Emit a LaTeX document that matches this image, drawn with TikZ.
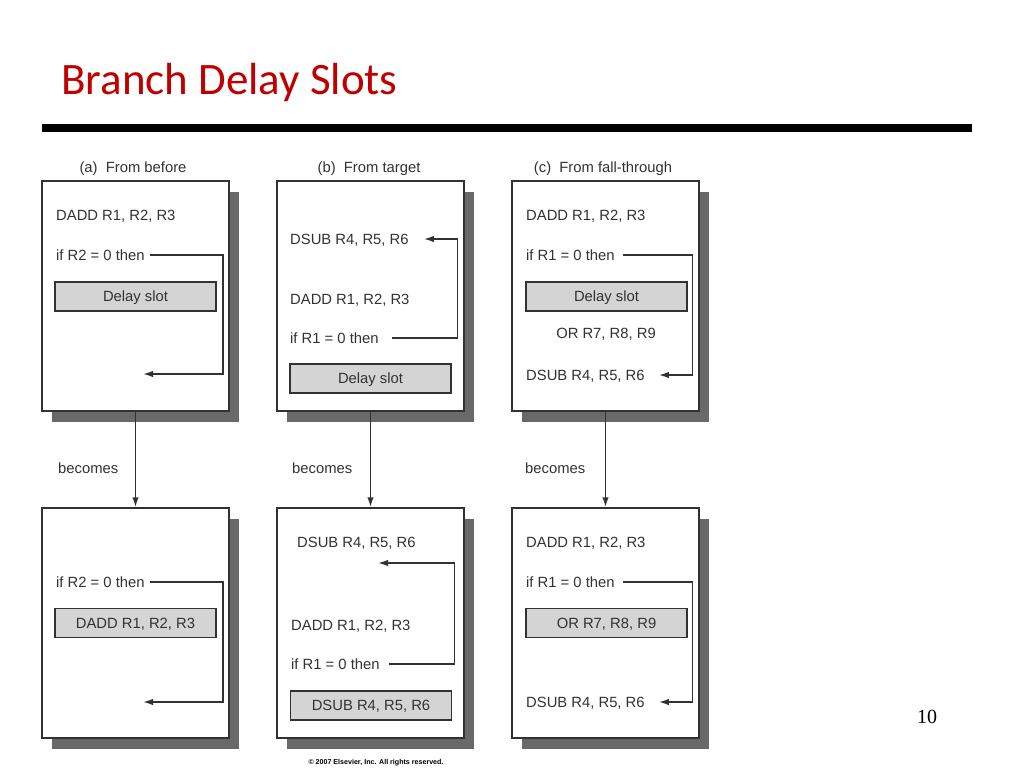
\documentclass[tikz,border=0pt]{standalone}
\usepackage{fontspec}
\setmainfont{Liberation Sans}
\newfontfamily\titlefont{Carlito}
\newfontfamily\numfont{Liberation Serif}
\usetikzlibrary{arrows.meta,shadows}
\definecolor{slidered}{RGB}{192,0,0}
\definecolor{ink}{RGB}{50,50,50}
\definecolor{slotgray}{RGB}{212,212,212}
\definecolor{shadowgray}{RGB}{105,105,105}
\begin{document}
\begin{tikzpicture}[x=1pt, y=-1pt, >={Latex[length=10pt,width=6.5pt]},
  every node/.style={font=\fontsize{14.8}{17}\selectfont, text=ink},
  code/.style={anchor=west, inner sep=0pt, text height=10.6pt, text depth=0pt},
  caption/.style={inner sep=0pt, text height=10.6pt, text depth=0pt},
  frame/.style={draw=ink, line width=1.5pt, fill=white, minimum width=187pt, minimum height=230pt, inner sep=0pt,
    drop shadow={shadow xshift=10pt, shadow yshift=-11pt, fill=shadowgray, opacity=1}},
  slot/.style={draw=ink, line width=1.2pt, fill=slotgray, minimum width=161pt, minimum height=29pt, inner sep=0pt,
    text height=10.6pt, text depth=0pt},
  link/.style={->, draw=ink, line width=1.6pt}]
  \useasboundingbox (0,0) rectangle (1024,768);

  \node[anchor=base west, inner sep=0pt, font=\titlefont\fontsize{45}{54}\selectfont, text=slidered] (title) at (61,94) {Branch Delay Slots};
  \fill (42,124) rectangle (972,132);

  % frames
  \node[frame] (boxA) at (135.5,296) {};
  \node[frame] (boxB) at (370.5,296) {};
  \node[frame] (boxC) at (605.5,296) {};
  \node[frame] (boxA2) at (135.5,623) {};
  \node[frame] (boxB2) at (370.5,623) {};
  \node[frame] (boxC2) at (605.5,623) {};

  \node[caption] (capA) at (133,167) {(a)\ \ From before};
  \node[caption] (capB) at (369,167) {(b)\ \ From target};
  \node[caption] (capC) at (603,167) {(c)\ \ From fall-through};

  % (a) from before
  \node[code] (aAdd) at (56,215) {DADD R1, R2, R3};
  \node[code] (aIf) at (56,255) {if R2 = 0 then};
  \node[slot] (aSlot) at (135.5,296.5) {Delay slot};
  \coordinate (aEnd) at (143,374);
  \draw[link, shorten <=5pt] (aIf.east) -- ++(78,0) |- (aEnd);

  \node[code] (aIf2) at (56,582) {if R2 = 0 then};
  \node[slot] (aSlot2) at (135.5,623) {DADD R1, R2, R3};
  \coordinate (aEnd2) at (143,702);
  \draw[link, shorten <=5pt] (aIf2.east) -- ++(78,0) |- (aEnd2);

  % (b) from target
  \node[code] (bSub) at (290,239) {DSUB R4, R5, R6};
  \node[code] (bAdd) at (290,299) {DADD R1, R2, R3};
  \node[code] (bIf) at (290,338) {if R1 = 0 then};
  \node[slot] (bSlot) at (370.5,378.5) {Delay slot};
  \draw[link, shorten <=13pt, shorten >=15pt] (bIf.east) -- ++(78.6,0) |- (bSub.east);

  \node[code] (bSub2) at (297,542) {DSUB R4, R5, R6};
  \node[code] (bAdd2) at (291,625) {DADD R1, R2, R3};
  \node[code] (bIf2) at (291,664) {if R1 = 0 then};
  \node[slot] (bSlot2) at (371,705.5) {DSUB R4, R5, R6};
  \coordinate (bEnd2) at (378,563);
  \draw[link, shorten <=9pt] (bIf2.east) -- ++(74.6,0) |- (bEnd2);

  % (c) from fall-through
  \node[code] (cAdd) at (526,215) {DADD R1, R2, R3};
  \node[code] (cIf) at (526,255) {if R1 = 0 then};
  \node[slot] (cSlot) at (606.5,296.5) {Delay slot};
  \node[caption] (cOr) at (606,333) {OR R7, R8, R9};
  \node[code] (cSub) at (526,375) {DSUB R4, R5, R6};
  \draw[link, shorten <=8pt, shorten >=14pt] (cIf.east) -- ++(77.6,0) |- (cSub.east);

  \node[code] (cAdd2) at (526,542) {DADD R1, R2, R3};
  \node[code] (cIf2) at (526,582) {if R1 = 0 then};
  \node[slot] (cSlot2) at (606.5,623) {OR R7, R8, R9};
  \node[code] (cSub2) at (526,702) {DSUB R4, R5, R6};
  \draw[link, shorten <=8pt, shorten >=14pt] (cIf2.east) -- ++(77.6,0) |- (cSub2.east);

  % becomes
  \draw[link] (boxA.south) -- (boxA2.north);
  \draw[link] (boxB.south) -- (boxB2.north);
  \draw[link] (boxC.south) -- (boxC2.north);
  \node[code] (becA) at (58,468) {becomes};
  \node[code] (becB) at (292,468) {becomes};
  \node[code] (becC) at (525,468) {becomes};

  \node[font=\numfont\fontsize{20}{24}\selectfont, text=black] (page) at (927,717) {10};
  \node[font=\bfseries\fontsize{7.1}{8}\selectfont, text=black] (copy) at (376,763) {\textcopyright{} 2007 Elsevier, Inc. All rights reserved.};
\end{tikzpicture}
\end{document}
